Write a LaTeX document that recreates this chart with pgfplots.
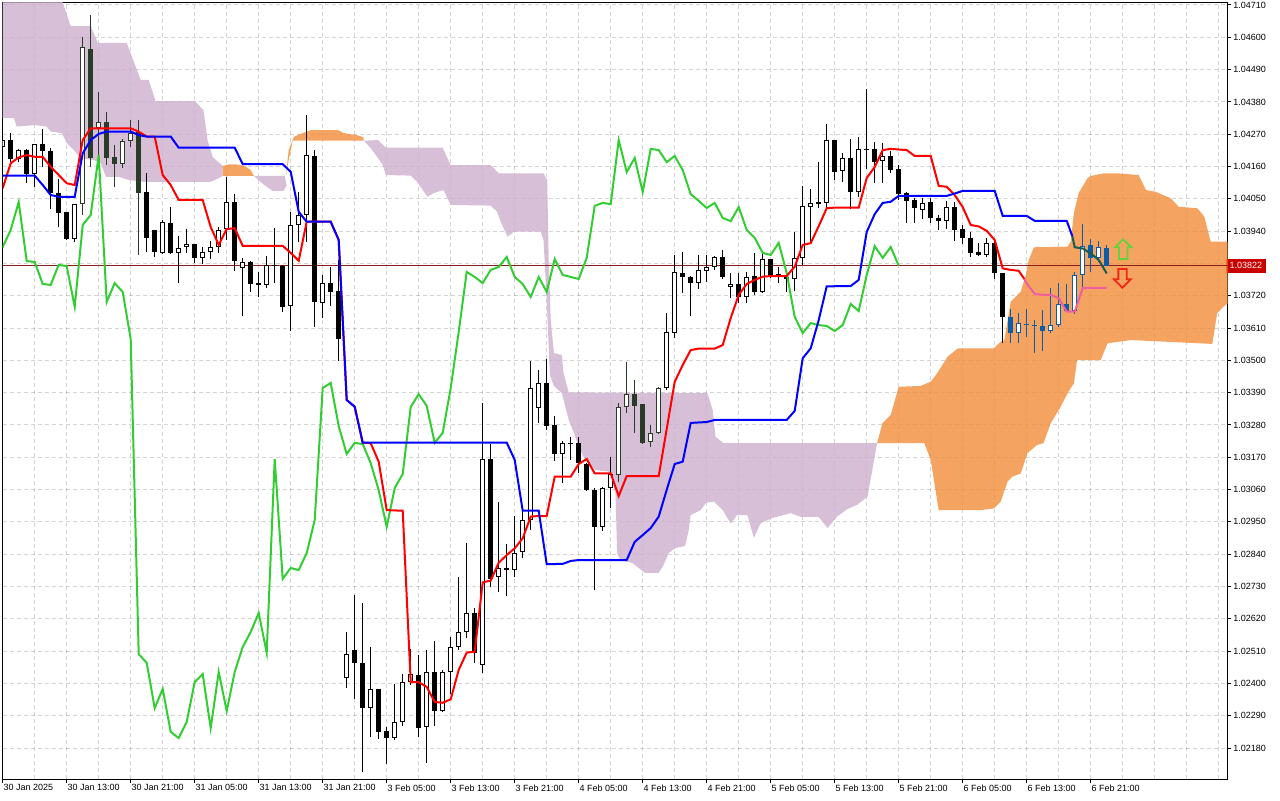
\documentclass[border=0pt]{standalone}
\usepackage{fontspec}
\setmainfont{Liberation Sans}
\usepackage{pgfplots}
\usepackage{pgfplotstable}
\pgfplotsset{compat=1.18}
\definecolor{kumoDn}{RGB}{206,175,206}
\definecolor{kumoUp}{RGB}{241,141,56}
\definecolor{dkg}{RGB}{40,60,40}
\definecolor{cblue}{RGB}{14,92,166}
\definecolor{tenk}{RGB}{255,0,0}
\definecolor{kij}{RGB}{0,0,255}
\definecolor{chik}{RGB}{50,205,50}
\definecolor{pinkT}{RGB}{238,94,160}
\definecolor{tealK}{RGB}{22,92,82}
\definecolor{bidred}{RGB}{200,0,0}
\definecolor{bidline}{RGB}{140,30,30}
\definecolor{arrG}{RGB}{100,210,60}
\definecolor{arrR}{RGB}{240,40,20}

\pgfplotstableread{
k o h l c cls
0 1.04227 1.04264 1.04216 1.04250 1
1 1.04250 1.04274 1.04175 1.04186 0
2 1.04186 1.04220 1.04175 1.04216 1
3 1.04216 1.04220 1.04104 1.04135 0
4 1.04135 1.04237 1.04090 1.04237 1
5 1.04237 1.04288 1.04158 1.04213 0
6 1.04213 1.04223 1.04015 1.04070 0
7 1.04070 1.04118 1.03954 1.04002 0
8 1.04005 1.04005 1.03910 1.03913 0
9 1.03913 1.04032 1.03903 1.04032 1
10 1.04032 1.04601 1.03995 1.04567 3
11 1.04560 1.04676 1.04158 1.04189 2
12 1.04291 1.04414 1.04192 1.04312 3
13 1.04312 1.04346 1.04165 1.04189 2
14 1.04192 1.04233 1.04090 1.04169 2
15 1.04169 1.04254 1.04155 1.04247 3
16 1.04247 1.04318 1.04227 1.04274 3
17 1.04278 1.04318 1.03859 1.04070 2
18 1.04073 1.04138 1.03869 1.03917 0
19 1.03944 1.03944 1.03852 1.03869 0
20 1.03866 1.03978 1.03862 1.03971 1
21 1.03968 1.04022 1.03862 1.03866 0
22 1.03866 1.03923 1.03763 1.03883 1
23 1.03886 1.03947 1.03866 1.03896 1
24 1.03896 1.03896 1.03832 1.03849 0
25 1.03849 1.03886 1.03828 1.03869 1
26 1.03869 1.03906 1.03845 1.03886 1
27 1.03886 1.03954 1.03866 1.03944 1
28 1.03947 1.04124 1.03910 1.04039 1
29 1.04039 1.04066 1.03804 1.03838 0
30 1.03814 1.03849 1.03651 1.03835 1
31 1.03835 1.03838 1.03733 1.03760 0
32 1.03763 1.03801 1.03716 1.03757 0
33 1.03757 1.03855 1.03746 1.03825 1
34 1.03825 1.03951 1.03763 1.03821 0
35 1.03821 1.03825 1.03665 1.03682 0
36 1.03685 1.04005 1.03600 1.03961 1
37 1.03961 1.04073 1.03903 1.03995 1
38 1.03995 1.04335 1.03903 1.04199 1
39 1.04196 1.04216 1.03614 1.03699 0
40 1.03695 1.03791 1.03644 1.03763 1
41 1.03763 1.03818 1.03685 1.03733 0
42 1.03736 1.03842 1.03498 1.03573 0
43 1.02418 1.02575 1.02384 1.02500 1
44 1.02514 1.02701 1.02347 1.02470 0
45 1.02470 1.02674 1.02098 1.02316 0
46 1.02316 1.02524 1.02218 1.02381 1
47 1.02381 1.02381 1.02211 1.02235 0
48 1.02238 1.02252 1.02126 1.02214 0
49 1.02214 1.02398 1.02207 1.02269 1
50 1.02269 1.02432 1.02255 1.02405 1
51 1.02405 1.02517 1.02395 1.02432 1
52 1.02429 1.02497 1.02218 1.02248 0
53 1.02252 1.02514 1.02129 1.02439 1
54 1.02439 1.02544 1.02255 1.02306 0
55 1.02306 1.02446 1.02303 1.02439 1
56 1.02439 1.02558 1.02364 1.02524 1
57 1.02524 1.02762 1.02514 1.02575 1
58 1.02575 1.02878 1.02555 1.02640 1
59 1.02640 1.02657 1.02470 1.02504 0
60 1.02463 1.03355 1.02435 1.03164 1
61 1.03164 1.03215 1.02728 1.02756 0
62 1.02762 1.03018 1.02711 1.02793 1
63 1.02793 1.02875 1.02698 1.02786 0
64 1.02786 1.02970 1.02762 1.02844 1
65 1.02847 1.03001 1.02827 1.02956 1
66 1.02956 1.03498 1.02922 1.03406 1
67 1.03338 1.03467 1.03287 1.03423 1
68 1.03423 1.03505 1.03263 1.03276 0
69 1.03280 1.03310 1.03157 1.03181 0
70 1.03181 1.03225 1.03082 1.03219 1
71 1.03219 1.03239 1.03161 1.03215 0
72 1.03219 1.03239 1.03116 1.03150 0
73 1.03147 1.03150 1.03055 1.03058 0
74 1.03058 1.03065 1.02718 1.02933 0
75 1.02933 1.03069 1.02919 1.03065 1
76 1.03065 1.03171 1.02997 1.03113 1
77 1.03110 1.03355 1.03086 1.03341 3
78 1.03341 1.03494 1.03321 1.03385 3
79 1.03385 1.03433 1.03253 1.03345 2
80 1.03351 1.03351 1.03215 1.03219 2
81 1.03222 1.03280 1.03205 1.03253 3
82 1.03253 1.03409 1.03249 1.03406 3
83 1.03406 1.03661 1.03399 1.03597 1
84 1.03593 1.03859 1.03576 1.03801 1
85 1.03797 1.03869 1.03729 1.03784 0
86 1.03784 1.03787 1.03651 1.03763 0
87 1.03763 1.03859 1.03743 1.03808 1
88 1.03804 1.03859 1.03767 1.03818 1
89 1.03818 1.03855 1.03808 1.03852 1
90 1.03852 1.03876 1.03777 1.03784 0
91 1.03750 1.03797 1.03712 1.03760 1
92 1.03760 1.03797 1.03695 1.03716 0
93 1.03716 1.03801 1.03695 1.03784 1
94 1.03787 1.03866 1.03723 1.03733 0
95 1.03733 1.03866 1.03729 1.03845 1
96 1.03845 1.03845 1.03780 1.03791 0
97 1.03794 1.03818 1.03763 1.03784 0
98 1.03784 1.03797 1.03733 1.03777 0
99 1.03777 1.03937 1.03736 1.03849 1
100 1.03849 1.04094 1.03825 1.04026 1
101 1.04022 1.04083 1.03900 1.04036 1
102 1.04039 1.04175 1.04019 1.04032 0
103 1.04036 1.04305 1.04019 1.04250 1
104 1.04250 1.04250 1.04114 1.04141 0
105 1.04145 1.04206 1.04107 1.04189 1
106 1.04189 1.04254 1.04015 1.04073 0
107 1.04073 1.04261 1.04056 1.04220 1
108 1.04220 1.04424 1.04152 1.04216 0
109 1.04220 1.04244 1.04104 1.04175 0
110 1.04179 1.04240 1.04104 1.04196 1
111 1.04196 1.04213 1.04138 1.04148 0
112 1.04152 1.04165 1.04046 1.04066 0
113 1.04070 1.04073 1.03968 1.04043 0
114 1.04046 1.04053 1.03968 1.04019 0
115 1.04012 1.04053 1.03981 1.04036 1
116 1.04039 1.04053 1.03968 1.03985 0
117 1.03985 1.03995 1.03944 1.03974 0
118 1.03974 1.04043 1.03947 1.04022 1
119 1.04022 1.04039 1.03906 1.03944 0
120 1.03947 1.03961 1.03896 1.03917 0
121 1.03917 1.03937 1.03852 1.03866 0
122 1.03869 1.03900 1.03855 1.03859 0
123 1.03859 1.03917 1.03852 1.03900 1
124 1.03900 1.03903 1.03777 1.03797 0
125 1.03797 1.03797 1.03559 1.03648 0
126 1.03648 1.03675 1.03559 1.03593 4
127 1.03593 1.03661 1.03559 1.03627 5
128 1.03624 1.03675 1.03580 1.03620 4
129 1.03620 1.03637 1.03525 1.03617 4
130 1.03617 1.03671 1.03532 1.03600 4
131 1.03600 1.03746 1.03593 1.03620 5
132 1.03620 1.03763 1.03614 1.03692 5
133 1.03692 1.03760 1.03665 1.03668 4
134 1.03668 1.03801 1.03658 1.03791 5
135 1.03791 1.03964 1.03746 1.03889 5
136 1.03893 1.03913 1.03801 1.03849 4
137 1.03849 1.03906 1.03835 1.03886 5
138 1.03883 1.03893 1.03822 1.03822 4
}\candles

\pgfplotstableread{
k v
0 1.04086
1 1.04171
2 1.04191
3 1.04199
4 1.04193
5 1.04193
6 1.04159
7 1.04131
8 1.04103
9 1.04097
10 1.04250
11 1.04290
16 1.04290
17 1.04279
18 1.04262
19 1.04262
20 1.04131
21 1.04097
22 1.04046
25 1.04046
26 1.03954
27 1.03893
28 1.03947
29 1.03950
30 1.03890
35 1.03890
36 1.03866
37 1.03839
38 1.03972
41 1.03972
42 1.03910
43 1.03365
44 1.03342
45 1.03220
46 1.03218
47 1.03155
48 1.02990
50 1.02988
51 1.02405
52 1.02404
53 1.02388
54 1.02337
55 1.02334
56 1.02346
57 1.02446
58 1.02505
59 1.02508
60 1.02744
61 1.02750
62 1.02811
63 1.02837
64 1.02860
65 1.02894
66 1.02968
67 1.02970
68 1.02970
69 1.03104
71 1.03104
72 1.03147
73 1.03164
74 1.03115
76 1.03115
77 1.03038
78 1.03106
82 1.03106
83 1.03266
84 1.03427
85 1.03484
86 1.03535
87 1.03540
89 1.03540
90 1.03552
91 1.03644
92 1.03723
93 1.03760
94 1.03774
95 1.03785
96 1.03787
98 1.03787
99 1.03819
100 1.03893
101 1.03899
102 1.03957
103 1.04018
104 1.04020
107 1.04020
108 1.04121
109 1.04158
110 1.04216
111 1.04220
112 1.04218
113 1.04216
114 1.04196
116 1.04196
117 1.04094
118 1.04091
119 1.04063
120 1.04022
121 1.03961
122 1.03956
123 1.03941
124 1.03910
125 1.03813
126 1.03808
127 1.03805
127.7 1.03777
}\tenkanA

\pgfplotstableread{
k v
127.7 1.03777
128 1.03762
129 1.03726
130 1.03723
131 1.03723
132 1.03712
133 1.03666
134 1.03666
135 1.03746
136 1.03747
138 1.03747
}\tenkanB

\pgfplotstableread{
k v
0 1.04129
4 1.04129
5 1.04097
6 1.04063
7 1.04057
9 1.04057
10 1.04205
11 1.04250
12 1.04271
13 1.04279
16 1.04279
17 1.04267
18 1.04262
21 1.04262
22 1.04224
29 1.04224
30 1.04168
35 1.04168
36 1.04142
37 1.04006
38 1.03972
41 1.03972
42 1.03910
43 1.03365
44 1.03342
45 1.03220
63 1.03220
64 1.03161
65 1.02988
67 1.02988
68 1.02806
70 1.02807
71 1.02817
72 1.02820
78 1.02820
79 1.02882
80 1.02905
81 1.02929
82 1.02968
83 1.03059
84 1.03147
85 1.03155
86 1.03287
88 1.03290
89 1.03297
98 1.03297
99 1.03328
100 1.03507
101 1.03541
102 1.03637
103 1.03752
106 1.03753
107 1.03774
108 1.03937
109 1.03998
110 1.04036
111 1.04040
112 1.04060
118 1.04060
119 1.04068
120 1.04077
124 1.04077
125 1.03992
128 1.03992
129 1.03975
133 1.03975
133.7 1.03923
}\kijunA

\pgfplotstableread{
k v
133.7 1.03923
134 1.03885
135 1.03881
136 1.03864
137 1.03842
138 1.03796
}\kijunB

\begin{document}
\begin{tikzpicture}[x=1pt,y=1pt]
\path[use as bounding box] (0,0) rectangle (640,400);
\begin{axis}[
  at={(1.35pt,10.5pt)}, anchor=south west,
  scale only axis, width=612.5pt, height=388.15pt,
  xmin=0, xmax=153.125, ymin=1.020745, ymax=1.047178,
  axis line style={black, line width=0.5pt},
  xtick={0,8,...,136},
  xticklabels={30 Jan 2025,30 Jan 13:00,30 Jan 21:00,31 Jan 05:00,31 Jan 13:00,31 Jan 21:00,3 Feb 05:00,3 Feb 13:00,3 Feb 21:00,4 Feb 05:00,4 Feb 13:00,4 Feb 21:00,5 Feb 05:00,5 Feb 13:00,5 Feb 21:00,6 Feb 05:00,6 Feb 13:00,6 Feb 21:00},
  minor xtick={4,12,...,148,144,152},
  ytick={1.02180,1.02290,1.02400,1.02510,1.02620,1.02730,1.02840,1.02950,1.03060,1.03170,1.03280,1.03390,1.03500,1.03610,1.03720,1.03830,1.03940,1.04050,1.04160,1.04270,1.04380,1.04490,1.04600,1.04710},
  yticklabels={1.02180,1.02290,1.02400,1.02510,1.02620,1.02730,1.02840,1.02950,1.03060,1.03170,1.03280,1.03390,1.03500,1.03610,1.03720,{},1.03940,1.04050,1.04160,1.04270,1.04380,1.04490,1.04600,1.04710},
  extra y ticks={1.03822},
  extra y tick labels={1.03822},
  extra y tick style={grid=none, major tick length=0pt,
    yticklabel style={fill=bidred, text=white, inner xsep=2pt, inner ysep=1.2pt, minimum height=7pt, xshift=-2.2pt}},
  xtick pos=bottom, ytick pos=right, yticklabel pos=right,
  tick align=outside, major tick length=1.75pt, minor tick length=0pt,
  every tick/.style={black, line width=0.5pt},
  xmajorgrids=true, xminorgrids=true, ymajorgrids=true,
  major grid style={draw=black, draw opacity=0.17, line width=0.5pt, dash pattern=on 2pt off 1.5pt},
  minor grid style={draw=black, draw opacity=0.17, line width=0.5pt, dash pattern=on 2pt off 1.5pt},
  tick label style={font=\fontsize{4.5pt}{5pt}\selectfont, text=black},
  xticklabel style={anchor=north west, inner sep=0pt, xshift=0.2pt, yshift=-0.8pt},
  yticklabel style={anchor=west, inner sep=0pt, xshift=0.9pt},
  kumo/.style={draw=none, fill opacity=0.8},
  wick/.style={mark=none, -, line width=0.5pt, quiver={u=0, v=\thisrow{h}-\thisrow{l}}},
  body/.style={mark=none, -, line width=2.5pt, quiver={u=0, v=\thisrow{c}-\thisrow{o}}},
  inner/.style={mark=none, -, line width=1.5pt, white,
    quiver={u=0, v=\thisrow{c}-\thisrow{o}, every arrow/.append style={shorten <=0.5pt, shorten >=0.5pt}}},
]
% ---- Ichimoku cloud (Senkou span A / B) ----
\addplot[kumo, fill=kumoDn] coordinates {
(-1,1.04761) (7.0,1.04761) (7.4,1.04727) (8.5,1.04638) (11.0,1.04638) (11.9,1.04581) (15.5,1.04581) (17.25,1.04455) (18.25,1.04455) (19.1,1.04383) (24.0,1.04383) (25.1,1.04352) (25.6,1.04250) (26.25,1.04192) (27.5,1.04162) (27.5,1.04128) (26.75,1.04117) (26.0,1.04108) (17.6,1.04108) (15.75,1.04114) (14.5,1.04125) (12.9,1.04125) (12.25,1.04172) (11.4,1.04182) (10.5,1.04185) (9.6,1.04193) (8.9,1.04216) (8.0,1.04240) (7.4,1.04274) (6.0,1.04279) (5.5,1.04296) (4.0,1.04301) (1.75,1.04296) (1.4,1.04325) (-1,1.04325)
} -- cycle;
\addplot[kumo, fill=kumoUp] coordinates {
(27.5,1.04162) (28.25,1.04167) (29.25,1.04167) (30.25,1.04162) (31.0,1.04148) (31.4,1.04128) (27.5,1.04128)
} -- cycle;
\addplot[kumo, fill=kumoDn] coordinates {
(31.4,1.04128) (35.25,1.04128) (35.5,1.04097) (35.1,1.04077) (33.75,1.04077) (32.5,1.04101)
} -- cycle;
\addplot[kumo, fill=kumoUp] coordinates {
(35.4,1.04128) (35.75,1.04216) (36.4,1.04261) (37.25,1.04271) (38.5,1.04284) (41.9,1.04284) (42.6,1.04274) (44.4,1.04266) (45.1,1.04259) (45.1,1.04248) (36.25,1.04248) (35.75,1.04182)
} -- cycle;
\addplot[kumo, fill=kumoDn] coordinates {
(45.1,1.04248) (46.9,1.04250) (47.9,1.04224) (55.0,1.04224) (56.0,1.04165) (61.0,1.04165) (62.0,1.04137) (67.6,1.04137) (68.06,1.04114) (68.25,1.03842) (68.5,1.03637) (68.9,1.03525) (69.9,1.03518) (70.1,1.03457) (70.75,1.03391) (88.1,1.03388) (88.75,1.03331) (89.1,1.03240) (90.1,1.03218) (109.3,1.03218)
(108.7,1.03127) (108.1,1.03036) (106.8,1.03008) (105.6,1.02994) (104.3,1.02968) (103.1,1.02929) (102.0,1.02967) (99.75,1.02967) (98.5,1.02980) (96.2,1.02963) (94.75,1.02946) (93.9,1.02895) (93.1,1.02973) (91.8,1.02973) (91.0,1.02945) (90.0,1.02990) (88.9,1.03019) (87.9,1.03015) (87.25,1.02990) (86.0,1.02973) (85.75,1.02922) (85.3,1.02868) (84.1,1.02861) (83.25,1.02844) (82.6,1.02803) (82.0,1.02776) (80.3,1.02776) (78.7,1.02810) (77.2,1.02820) (76.8,1.02844) (76.6,1.03048) (75.75,1.03121) (74.1,1.03127) (72.8,1.03161) (72.0,1.03206) (71.4,1.03253) (70.75,1.03297) (69.9,1.03388) (68.9,1.03413) (68.4,1.03450) (68.0,1.03706) (67.6,1.03910) (67.25,1.03938) (63.9,1.03938) (63.1,1.03921) (62.25,1.03972) (61.8,1.04006) (61.0,1.04027) (56.0,1.04029) (55.1,1.04080) (53.9,1.04070) (53.1,1.04057) (52.5,1.04080) (51.8,1.04108) (51.0,1.04129) (47.9,1.04131) (47.5,1.04165) (46.8,1.04193) (46.0,1.04223)
} -- cycle;
\addplot[kumo, fill=kumoUp] coordinates {
(109.3,1.03218) (109.96,1.03286) (111.0,1.03314) (112.0,1.03410) (114.75,1.03413) (116.0,1.03427) (116.8,1.03456) (118.1,1.03512) (118.9,1.03530) (119.4,1.03541) (123.9,1.03541) (124.75,1.03564) (125.2,1.03569) (126.0,1.03700) (127.25,1.03734) (127.9,1.03791) (128.25,1.03842) (128.9,1.03885) (133.1,1.03887) (133.5,1.03904) (133.9,1.04002) (134.5,1.04070) (135.6,1.04120) (136.0,1.04128) (137.7,1.04137) (139.3,1.04137) (142.0,1.04131) (142.9,1.04080) (144.1,1.04074) (146.0,1.04052) (147.0,1.04023) (149.3,1.04018) (149.75,1.04005) (150.2,1.03989) (151.0,1.03904) (154,1.03904)
(154,1.03712) (152.6,1.03683) (151.8,1.03660) (151.2,1.03556) (141.0,1.03569) (138.1,1.03558) (137.25,1.03501) (134.3,1.03501) (133.9,1.03422) (133.1,1.03388) (132.25,1.03342) (131.0,1.03286) (130.1,1.03218) (129.3,1.03212) (128.1,1.03184) (127.25,1.03115) (126.2,1.03104) (125.6,1.03087) (124.75,1.03019) (123.9,1.02996) (122.25,1.02990) (117.0,1.02990) (116.0,1.03161) (115.2,1.03218)
} -- cycle;
% ---- bid line ----
\addplot[bidline, line width=0.5pt] coordinates {(0,1.03822) (153.125,1.03822)};
% ---- candles ----
\addplot[wick, black, restrict expr to domain={\thisrow{cls}}{0:1}] table[x=k, y=l] {\candles};
\addplot[wick, dkg, restrict expr to domain={\thisrow{cls}}{2:3}] table[x=k, y=l] {\candles};
\addplot[wick, cblue, restrict expr to domain={\thisrow{cls}}{4:5}] table[x=k, y=l] {\candles};
\addplot[body, black, restrict expr to domain={\thisrow{cls}}{0:1}] table[x=k, y=o] {\candles};
\addplot[body, dkg, restrict expr to domain={\thisrow{cls}}{2:3}] table[x=k, y=o] {\candles};
\addplot[body, cblue, restrict expr to domain={\thisrow{cls}}{4:5}] table[x=k, y=o] {\candles};
\addplot[inner, restrict expr to domain={\thisrow{cls}}{1:1}] table[x=k, y=o] {\candles};
\addplot[inner, restrict expr to domain={\thisrow{cls}}{3:3}] table[x=k, y=o] {\candles};
\addplot[inner, restrict expr to domain={\thisrow{cls}}{5:5}] table[x=k, y=o] {\candles};
% ---- Chikou span (close shifted 26 bars back) ----
\addplot[chik, line width=1pt, mark=none] table[x expr=\thisrow{k}-26, y=c] {\candles};
% ---- Tenkan-sen ----
\addplot[tenk, line width=1pt, mark=none] table[x=k, y=v] {\tenkanA};
\addplot[pinkT, line width=1pt, mark=none] table[x=k, y=v] {\tenkanB};
% ---- Kijun-sen ----
\addplot[kij, line width=1pt, mark=none] table[x=k, y=v] {\kijunA};
\addplot[tealK, line width=1pt, mark=none] table[x=k, y=v] {\kijunB};
% ---- signal arrows ----
\addplot[arrG, line width=0.9pt, mark=none] coordinates {
(140.04,1.03912) (141.1,1.03885) (140.59,1.03885) (140.59,1.03845) (139.54,1.03845) (139.54,1.03885) (139.04,1.03885)
} -- cycle;
\addplot[arrR, line width=0.9pt, mark=none] coordinates {
(139.46,1.03811) (140.5,1.03811) (140.5,1.03776) (141.0,1.03776) (139.96,1.03747) (138.9,1.03776) (139.46,1.03776)
} -- cycle;
\end{axis}
\end{tikzpicture}
\end{document}
